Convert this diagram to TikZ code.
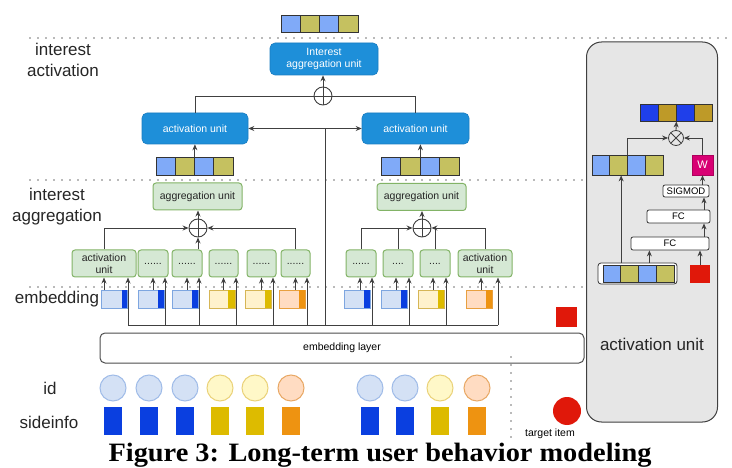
\documentclass[tikz,border=0pt]{standalone}
\usepackage{fontspec}
\setmainfont{Liberation Sans}
\newfontfamily\capfont[FakeStretch=1.07]{Liberation Serif}
\usetikzlibrary{arrows.meta,calc}

\definecolor{lb}{HTML}{80AAF8}
\definecolor{ol}{HTML}{C5C160}
\definecolor{db}{HTML}{1F3FEA}
\definecolor{dol}{HTML}{BE9A28}
\definecolor{aublue}{HTML}{1E8FD9}
\definecolor{aublueb}{HTML}{1A7CC0}
\definecolor{gfill}{HTML}{D5E8D4}
\definecolor{gdraw}{HTML}{82B366}
\definecolor{bl}{HTML}{D4E1F5}
\definecolor{blb}{HTML}{7EA6E0}
\definecolor{bd}{HTML}{0A3FE0}
\definecolor{yl}{HTML}{FFF2CC}
\definecolor{ylb}{HTML}{D6B656}
\definecolor{yd}{HTML}{DDBB00}
\definecolor{orl}{HTML}{FFDCC2}
\definecolor{orb}{HTML}{E8A040}
\definecolor{ord}{HTML}{EE9311}
\definecolor{cbl}{HTML}{D4E1F5}
\definecolor{cblb}{HTML}{A0BCE8}
\definecolor{cyl}{HTML}{FFF8C8}
\definecolor{cylb}{HTML}{EAD27A}
\definecolor{corl}{HTML}{FFDCC2}
\definecolor{corb}{HTML}{E8A865}
\definecolor{redx}{HTML}{E0180A}
\definecolor{wmag}{HTML}{D80073}
\definecolor{panelc}{HTML}{E6E6E6}
\definecolor{ln}{HTML}{404040}

\newcommand\vecrow[6]{\foreach \c [count=\i] in {#6}{\node[cell, fill=\c, minimum width=#4, minimum height=#5] (#1-\i) at ({#2+(\i-0.5)*#4},#3) {};}}
\newcommand\embblk[6]{%
  \node[draw=#5, fill=#4, line width=0.8pt, inner sep=0, minimum width=26, minimum height=18, anchor=north west] (#1) at (#2,290) {};
  \fill[#6] ([xshift=-#3pt,yshift=-0.4pt]#1.north east) rectangle ([xshift=-0.4pt,yshift=0.4pt]#1.south east);}

\tikzset{
 lab/.style={font=\fontsize{17}{21}\selectfont, text=black!85, align=center, inner sep=0},
 small/.style={font=\fontsize{10.5}{12.5}\selectfont},
 ublue/.style={draw=aublueb, fill=aublue, rounded corners=5pt, text=white, small, align=center, inner sep=0, line width=0.6pt},
 ugreen/.style={draw=gdraw, fill=gfill, rounded corners=3pt, small, align=center, inner sep=0, line width=1pt, text=black!85, minimum height=27},
 cell/.style={draw=black!80, line width=0.8pt, inner sep=0},
 conn/.style={draw=ln, line width=0.9pt},
 arr/.style={conn, -{Stealth[length=6pt,width=5pt]}},
 barr/.style={conn, {Stealth[length=6pt,width=5pt]}-{Stealth[length=6pt,width=5pt]}},
 dots/.style={draw=black!55, line width=1.7pt, dash pattern=on 0pt off 8pt, line cap=round},
 opl/.style={circle, draw=ln, line width=0.9pt, minimum size=18pt, inner sep=0,
   path picture={\draw[ln, line width=0.9pt] (path picture bounding box.north) -- (path picture bounding box.south) (path picture bounding box.west) -- (path picture bounding box.east);}},
 otm/.style={circle, draw=ln, line width=0.8pt, minimum size=15pt, inner sep=0,
   path picture={\draw[ln, line width=0.8pt] (path picture bounding box.north west) -- (path picture bounding box.south east) (path picture bounding box.north east) -- (path picture bounding box.south west);}},
 wbox/.style={draw=black!80, fill=white, rounded corners=2pt, inner sep=0, line width=0.8pt, font=\fontsize{9.5}{11}\selectfont},
 idc/.style={circle, minimum size=26, inner sep=0, line width=1pt},
 sq/.style={minimum width=18, minimum height=28, inner sep=0},
}

\begin{document}
\begin{tikzpicture}[x=1pt,y=-1pt]
\useasboundingbox (0,0) rectangle (732,468);

% dotted separators
\draw[dots] (30,38) -- (732,38);
\draw[dots] (30,180) -- (582,180);
\draw[dots] (30,287) -- (582,287);
\draw[dots] (511,357) -- (511,442);

% left labels
\node[lab] (l1) at (63,60) {interest\\activation};
\node[lab] (l2) at (57,207) {interest\\aggregation};
\node[lab] (l3) at (57,299) {embedding};
\node[lab] (l4) at (50,388) {id};
\node[lab] (l5) at (49,422) {sideinfo};

% top vector
\vecrow{tv}{281}{23.5}{19.25}{17}{lb,ol,lb,ol}

% blue units
\node[ublue, minimum width=108, minimum height=32] (iau) at (324,59) {Interest\\aggregation unit};
\node[opl] (op0) at (323,96) {};
\node[ublue, minimum width=106, minimum height=31] (au1) at (195,128.5) {activation unit};
\node[ublue, minimum width=107, minimum height=31] (au2) at (415.5,128.5) {activation unit};

\vecrow{lv}{156}{166}{19.25}{18}{lb,ol,lb,ol}
\vecrow{rv}{381}{166}{19.5}{18}{lb,ol,lb,ol}

% green aggregation units
\node[ugreen, minimum width=89] (ag1) at (197.5,196.5) {aggregation unit};
\node[ugreen, minimum width=89] (ag2) at (421.5,197) {aggregation unit};
\node[opl] (op1) at (198,228) {};
\node[opl] (op2) at (422,228) {};

% green activation row (left)
\node[ugreen, minimum width=64] (g1) at (104,263.5) {activation\\unit};
\node[ugreen, minimum width=30] (g2) at (153,263.5) {......};
\node[ugreen, minimum width=30] (g3) at (187,263.5) {......};
\node[ugreen, minimum width=29] (g4) at (223.5,263.5) {......};
\node[ugreen, minimum width=29] (g5) at (261.5,263.5) {......};
\node[ugreen, minimum width=29] (g6) at (295.5,263.5) {......};
% green activation row (right)
\node[ugreen, minimum width=30] (gr1) at (361,263.5) {......};
\node[ugreen, minimum width=30] (gr2) at (398,263.5) {....};
\node[ugreen, minimum width=30] (gr3) at (435,263.5) {....};
\node[ugreen, minimum width=54] (gr4) at (485,263.5) {activation\\unit};

% embedding blocks
\embblk{e1}{101}{6}{bl}{blb}{bd}
\embblk{e2}{138}{7}{bl}{blb}{bd}
\embblk{e3}{172}{7}{bl}{blb}{bd}
\embblk{e4}{209}{8}{yl}{ylb}{yd}
\embblk{e5}{245}{7}{yl}{ylb}{yd}
\embblk{e6}{279}{7}{orl}{orb}{ord}
\embblk{er1}{344}{7}{bl}{blb}{bd}
\embblk{er2}{381}{7}{bl}{blb}{bd}
\embblk{er3}{418}{7}{yl}{ylb}{yd}
\embblk{er4}{466}{7}{orl}{orb}{ord}

% red square (target embedding)
\node[fill=redx, minimum width=21, minimum height=19, inner sep=0] (tsq) at (566.5,317) {};

% embedding layer
\node[draw=black!70, rounded corners=5pt, line width=1pt, minimum width=484, minimum height=30, small, inner sep=0] (emb) at (342,348) {embedding layer};

% id circles and sideinfo squares
\foreach \x/\f/\b/\s [count=\k] in {113/cbl/cblb/bd,149/cbl/cblb/bd,185/cbl/cblb/bd,220/cyl/cylb/yd,255/cyl/cylb/yd,291/corl/corb/ord,370/cbl/cblb/bd,405/cbl/cblb/bd,440/cyl/cylb/yd,477/corl/corb/ord}{
  \node[idc, fill=\f, draw=\b] (c\k) at (\x,388) {};
  \node[sq, fill=\s] (s\k) at (\x,421) {};
}
\node[circle, fill=redx, minimum size=28, inner sep=0] (tgt) at (567,411) {};
\node[small, inner sep=0] (tgtl) at (550,434) {target item};

% bus
\coordinate (b1) at (128,325);
\coordinate (b2) at (165,325);
\coordinate (b3) at (199,325);
\coordinate (b4) at (236,325);
\coordinate (b5) at (273,325);
\coordinate (b6) at (307,325);
\coordinate (b7) at (372,325);
\coordinate (b8) at (409,325);
\coordinate (b9) at (446,325);
\coordinate (b10) at (498,325);
\coordinate (bm) at (325,325);
\draw[conn] (b1) -- (b10);
\draw[arr] (b1) -- (b1 |- g1.south);
\draw[arr] (b2) -- (b2 |- g2.south);
\draw[arr] (b3) -- (b3 |- g3.south);
\draw[arr] (b4) -- (b4 |- g4.south);
\draw[arr] (b5) -- (b5 |- g5.south);
\draw[arr] (b6) -- (b6 |- g6.south);
\draw[arr] (b7) -- (b7 |- gr1.south);
\draw[arr] (b8) -- (b8 |- gr2.south);
\draw[arr] (b9) -- (b9 |- gr3.south);
\draw[arr] (b10) -- (b10 |- gr4.south);
\draw[conn] (bm) -- (bm |- au1.east);
\draw[barr] (au1.east) -- (au2.west);

% embedding -> green units
\draw[arr] (g1.south |- e1.north) -- (g1.south);
\draw[arr] (g2.south |- e2.north) -- (g2.south);
\draw[arr] (g3.south |- e3.north) -- (g3.south);
\draw[arr] (g4.south |- e4.north) -- (g4.south);
\draw[arr] (g5.south |- e5.north) -- (g5.south);
\draw[arr] (g6.south |- e6.north) -- (g6.south);
\draw[arr] ([xshift=-1pt]gr1.south |- er1.north) -- ([xshift=-1pt]gr1.south);
\draw[arr] ([xshift=-2pt]gr2.south |- er2.north) -- ([xshift=-2pt]gr2.south);
\draw[arr] ([xshift=-2pt]gr3.south |- er3.north) -- ([xshift=-2pt]gr3.south);
\draw[arr] ([xshift=-4pt]gr4.south |- er4.north) -- ([xshift=-4pt]gr4.south);

% green units -> oplus -> aggregation
\draw[arr] (g1.north) |- (op1.west);
\draw[arr] (g6.north) |- (op1.east);
\draw[arr] (op1.south |- g3.north) -- (op1.south);
\draw[arr] (op1.north) -- (op1.north |- ag1.south);
\draw[arr] (gr1.north) |- (op2.west);
\draw[conn] (gr2.north) -- (gr2.north |- op2.west);
\draw[arr] (gr4.north) |- (op2.east);
\draw[conn] (gr3.north) -- (gr3.north |- op2.east);
\draw[arr] (op2.north) -- (op2.north |- ag2.south);

% vectors -> activation units
\draw[arr] (lv-2.north east) -- (lv-2.north east |- au1.south);
\draw[arr] (rv-2.north east) -- (rv-2.north east |- au2.south);
\draw[conn] (au1.north) |- (op0.west);
\draw[conn] (au2.north) |- (op0.east);
\draw[arr] (op0.north) -- (op0.north |- iau.south);

% ---------- activation unit panel ----------
\node[draw=black!75, fill=panelc, rounded corners=15pt, line width=1pt, minimum width=131, minimum height=380, inner sep=0] (panel) at (652,232) {};
\node[lab] (pl) at (652,344) {activation unit};

\vecrow{ptv}{640}{112.5}{18}{17}{db,dol,db,dol}
\node[otm] (ot) at (676,138) {};
\vecrow{pmv}{592}{165}{17.75}{20}{lb,ol,lb,ol}
\node[fill=wmag, draw=wmag!80!black, minimum width=21, minimum height=20, inner sep=0, text=white, font=\fontsize{11}{13}\selectfont] (W) at (702.5,165) {W};
\node[wbox, minimum width=46, minimum height=12] (sig) at (686,191) {SIGMOD};
\node[wbox, minimum width=63, minimum height=13] (fc1) at (678.5,216.5) {FC};
\node[wbox, minimum width=78, minimum height=13] (fc2) at (670,243.5) {FC};
\node[draw=black!80, fill=white, rounded corners=3pt, line width=0.8pt, minimum width=79, minimum height=21, inner sep=0] (pbvbox) at (637.5,273.5) {};
\vecrow{pbv}{603}{273.5}{17.75}{17}{lb,ol,lb,ol}
\node[fill=redx, minimum width=20, minimum height=18, inner sep=0] (rsq) at (700,274) {};

\draw[arr] (ot.north) -- (ptv-2.south east);
\draw[arr] (pmv-2.north east) |- (ot.west);
\draw[arr] (W.north) |- (ot.east);
\draw[arr] (W.south |- sig.north) -- (W.south);
\draw[arr] ([xshift=1.5pt]W.south |- fc1.north) -- ([xshift=1.5pt]W.south |- sig.south);
\draw[arr] ([xshift=1.5pt]W.south |- fc2.north) -- ([xshift=1.5pt]W.south |- fc1.south);
\draw[arr] (rsq.north) -- (rsq.north |- fc2.south);
\draw[arr] ([xshift=2pt]pbv-3.north |- pbvbox.north) -- ([xshift=2pt]pbv-3.north |- fc2.south);
\draw[arr] (pbv-1.north east |- pbvbox.north) -- (pbv-1.north east |- pmv-1.south);

% caption
\node[font={\capfont\bfseries\fontsize{26.5}{30}\selectfont}, anchor=base, inner sep=0] (cap) at (380,461) {Figure 3: Long-term user behavior modeling};
\end{tikzpicture}
\end{document}
